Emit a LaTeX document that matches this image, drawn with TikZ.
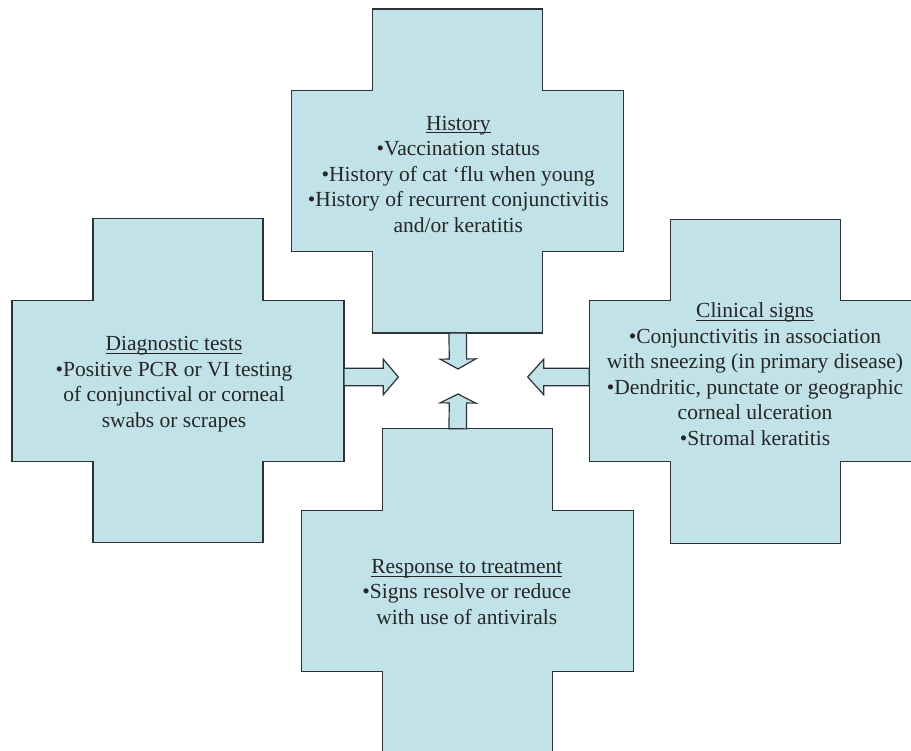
\documentclass[tikz,border=0pt]{standalone}
\usepackage{fontspec}
\setmainfont{Liberation Serif}
\usetikzlibrary{calc}
\definecolor{crossblue}{RGB}{192,226,232}
\definecolor{edgegray}{RGB}{45,50,52}

\tikzset{
  crossline/.style={draw=edgegray, fill=crossblue, line width=1.2pt, line join=miter},
  arrowline/.style={draw=edgegray, fill=crossblue, line width=1.2pt, line join=miter},
  crosstext/.style={align=center, inner sep=0pt, text=black!85,
    font=\fontsize{21.5}{25.5}\selectfont}
}

% underlined heading, rule crossing the descenders
\newsavebox{\titlebox}
\newcommand{\undertitle}[1]{\sbox{\titlebox}{#1}\rlap{\rule[-3pt]{\wd\titlebox}{0.9pt}}\usebox{\titlebox}}

% cross of fixed size centred at (#2,#3), with coordinates on its four ends
\newcommand{\crossbox}[3]{%
  \draw[crossline] (#2-85,#3-162) -- (#2+85,#3-162) -- (#2+85,#3-80.5)
    -- (#2+166,#3-80.5) -- (#2+166,#3+80.5) -- (#2+85,#3+80.5)
    -- (#2+85,#3+162) -- (#2-85,#3+162) -- (#2-85,#3+80.5)
    -- (#2-166,#3+80.5) -- (#2-166,#3-80.5) -- (#2-85,#3-80.5) -- cycle;
  \coordinate (#1-n) at (#2,#3-162);
  \coordinate (#1-s) at (#2,#3+162);
  \coordinate (#1-w) at (#2-166,#3);
  \coordinate (#1-e) at (#2+166,#3);
}

% block arrow from #1 to #2, head length #3
\newcommand{\blockarrow}[3]{%
  \draw[arrowline] let \p1=(#1), \p2=(#2),
      \n1={atan2(\y2-\y1,\x2-\x1)}, \n2={veclen(\x2-\x1,\y2-\y1)} in
    [shift={(\p1)}, rotate=\n1]
    (0pt,-8.7pt) -- ({(\n2-#3)*1pt},-8.7pt) -- ({(\n2-#3)*1pt},-17.8pt)
    -- ({\n2*1pt},0pt) -- ({(\n2-#3)*1pt},17.8pt) -- ({(\n2-#3)*1pt},8.7pt)
    -- (0pt,8.7pt) -- cycle;
}

\begin{document}
\begin{tikzpicture}[x=1pt, y=-1pt]
  \clip (0,0) rectangle (911,751);
  \fill[white] (0,0) rectangle (911,751);
  % the four crosses
  \crossbox{hist}{457.7}{171}
  \crossbox{diag}{178}{380.7}
  \crossbox{clin}{755.3}{381.3}
  \crossbox{resp}{467.3}{590.8}
  \node[crosstext] (history) at (458.3,174) {\undertitle{History}\\
    •Vaccination status\\•History of cat ‘flu when young\\
    •History of recurrent conjunctivitis\\and/or keratitis};
  \node[crosstext] (diagnostic) at (174,384) {\undertitle{Diagnostic tests}\\
    •Positive PCR or VI testing\\of conjunctival or corneal\\swabs or scrapes};
  \node[crosstext] (clinical) at (755,374) {\undertitle{Clinical signs}\\
    •Conjunctivitis in association\\with sneezing (in primary disease)\\
    •Dendritic, punctate or geographic\\corneal ulceration\\•Stromal keratitis};
  \node[crosstext] (response) at (466.8,592) {\undertitle{Response to treatment}\\
    •Signs resolve or reduce\\with use of antivirals};
  % arrow tips round the middle
  \coordinate (tip-n) at (458,369);
  \coordinate (tip-s) at (458,394);
  \coordinate (tip-w) at (398.3,377);
  \coordinate (tip-e) at (527.7,377);
  \blockarrow{hist-s}{tip-n}{10}
  \blockarrow{hist-s |- resp-n}{tip-s}{9}
  \blockarrow{diag-e |- tip-w}{tip-w}{15}
  \blockarrow{clin-w |- tip-e}{tip-e}{16}
\end{tikzpicture}
\end{document}
